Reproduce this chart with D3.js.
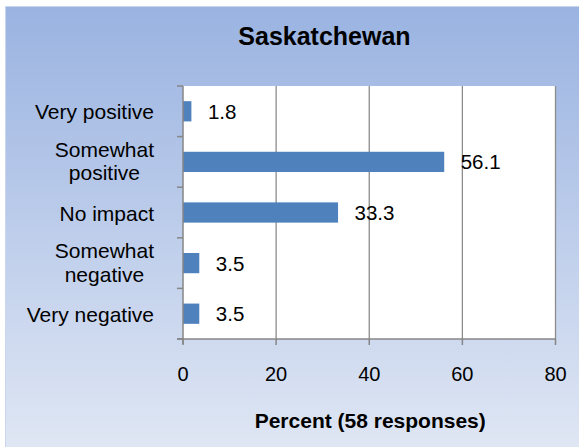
<!DOCTYPE html>
<html>
<head>
<meta charset="utf-8">
<script src="https://cdn.jsdelivr.net/npm/d3@7"></script>
<style>
  html, body { margin: 0; padding: 0; background: #ffffff; }
  text { font-family: Arial, "Liberation Sans", sans-serif; fill: #000; }
</style>
</head>
<body>
<div id="chart"></div>
<script>
// data
const categories = ["Very positive", "Somewhat positive", "No impact", "Somewhat negative", "Very negative"];
const labelLines = [["Very positive"], ["Somewhat", "positive"], ["No impact"], ["Somewhat", "negative"], ["Very negative"]];
const values = [1.8, 56.1, 33.3, 3.5, 3.5];
const xTicks = [0, 20, 40, 60, 80];

const chartTitle = "Saskatchewan";
const axisTitle = "Percent (58 responses)";

const dimensions = {
    width: 579,
    height: 447,
    plot: { left: 183, right: 555.5, top: 86, bottom: 339 }
};

const svg = d3.select("#chart")
    .append("svg")
    .attr("width", dimensions.width)
    .attr("height", dimensions.height);

// background gradient
const defs = svg.append("defs");
const grad = defs.append("linearGradient")
    .attr("id", "bg")
    .attr("x1", 0).attr("y1", 0).attr("x2", 0).attr("y2", 1);
grad.append("stop").attr("offset", "0%").attr("stop-color", "#9ab3e1");
grad.append("stop").attr("offset", "100%").attr("stop-color", "#e0e7f4");

svg.append("rect")
    .attr("x", 0).attr("y", 0)
    .attr("width", dimensions.width).attr("height", dimensions.height)
    .attr("fill", "#ffffff");

svg.append("rect")
    .attr("x", 5.5).attr("y", 6.5)
    .attr("width", dimensions.width).attr("height", dimensions.height)
    .attr("fill", "url(#bg)")
    .attr("stroke", "#c9d6ee")
    .attr("stroke-width", 1);

// scales
const x = d3.scaleLinear()
    .domain([0, 80])
    .range([dimensions.plot.left, dimensions.plot.right]);

const y = d3.scaleBand()
    .domain(categories)
    .range([dimensions.plot.top, dimensions.plot.bottom])
    .paddingInner(0.6)
    .paddingOuter(0.3);

const step = y.step();
const bandTop = d => y(d) - y.paddingOuter() * step;
const center = d => y(d) + y.bandwidth() / 2;

// plot area
svg.append("rect")
    .attr("x", x(0)).attr("y", dimensions.plot.top)
    .attr("width", x(80) - x(0))
    .attr("height", dimensions.plot.bottom - dimensions.plot.top)
    .attr("fill", "#ffffff");

// gridlines
svg.append("g")
    .selectAll("line")
    .data(xTicks.slice(1))
    .join("line")
    .attr("x1", d => x(d)).attr("x2", d => x(d))
    .attr("y1", dimensions.plot.top).attr("y2", dimensions.plot.bottom)
    .attr("stroke", "#8c8c8c")
    .attr("stroke-width", 1.3);

// bars
svg.append("g")
    .selectAll("rect")
    .data(values)
    .join("rect")
    .attr("x", x(0))
    .attr("y", (d, i) => y(categories[i]))
    .attr("width", d => x(d) - x(0))
    .attr("height", y.bandwidth())
    .attr("fill", "#4f81bd");

// value labels
svg.append("g")
    .selectAll("text")
    .data(values)
    .join("text")
    .attr("x", d => x(d) + 16.5)
    .attr("y", (d, i) => center(categories[i]) + 7.5)
    .style("font-size", "20.5px")
    .text(d => d.toFixed(1));

// left axis
const axisColor = "#868686";
svg.append("line")
    .attr("x1", x(0)).attr("x2", x(0))
    .attr("y1", dimensions.plot.top).attr("y2", dimensions.plot.bottom + 5)
    .attr("stroke", axisColor).attr("stroke-width", 1.5);

const yTickPos = categories.map(bandTop).concat([dimensions.plot.bottom]);
svg.append("g")
    .selectAll("line")
    .data(yTickPos)
    .join("line")
    .attr("x1", x(0) - 6).attr("x2", x(0))
    .attr("y1", d => d).attr("y2", d => d)
    .attr("stroke", axisColor).attr("stroke-width", 1.5);

// bottom axis
svg.append("line")
    .attr("x1", x(0) - 6).attr("x2", x(80))
    .attr("y1", dimensions.plot.bottom).attr("y2", dimensions.plot.bottom)
    .attr("stroke", axisColor).attr("stroke-width", 1.5);

svg.append("g")
    .selectAll("line")
    .data(xTicks)
    .join("line")
    .attr("x1", d => x(d)).attr("x2", d => x(d))
    .attr("y1", dimensions.plot.bottom).attr("y2", dimensions.plot.bottom + 6)
    .attr("stroke", axisColor).attr("stroke-width", 1.5);

svg.append("g")
    .selectAll("text")
    .data(xTicks)
    .join("text")
    .attr("x", d => x(d))
    .attr("y", 381)
    .attr("text-anchor", "middle")
    .style("font-size", "20px")
    .text(d => d);

// category labels (multi-line blocks right aligned, lines centred)
const labelRight = 154;
const catGroups = svg.append("g")
    .selectAll("g")
    .data(categories)
    .join("g");

catGroups.each(function(d, i) {
    const g = d3.select(this);
    const lines = labelLines[i];
    const texts = g.selectAll("text")
        .data(lines)
        .join("text")
        .style("font-size", "21px")
        .attr("text-anchor", "middle")
        .text(t => t);
    let maxW = 0;
    texts.each(function() { maxW = Math.max(maxW, this.getComputedTextLength()); });
    const c = center(d);
    texts
        .attr("x", labelRight - maxW / 2)
        .attr("y", (t, j) => lines.length === 1 ? c + 8 : c - 5 + j * 23.5);
});

// titles
svg.append("text")
    .attr("x", 324.5)
    .attr("y", 45)
    .attr("text-anchor", "middle")
    .style("font-size", "25px")
    .style("font-weight", "bold")
    .text(chartTitle);

svg.append("text")
    .attr("x", (x(0) + x(80)) / 2 + 1)
    .attr("y", 428)
    .attr("text-anchor", "middle")
    .style("font-size", "21px")
    .style("font-weight", "bold")
    .text(axisTitle);
</script>
</body>
</html>
